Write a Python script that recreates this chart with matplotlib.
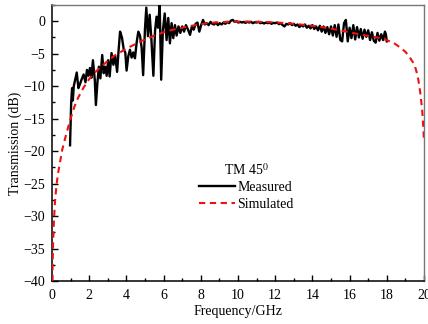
import matplotlib
matplotlib.use("Agg")
import matplotlib.pyplot as plt
from matplotlib.ticker import MultipleLocator

plt.rcParams['font.family'] = ['Liberation Serif', 'DejaVu Serif']
plt.rcParams['mathtext.fontset'] = 'stix'

# Measured transmission (GHz, dB)
meas_f = [0.97, 1.03, 1.08, 1.12, 1.17, 1.24, 1.33, 1.42, 1.50, 1.60, 1.70, 1.80, 1.88, 1.96,
          2.04, 2.12, 2.20, 2.30, 2.36, 2.44, 2.52, 2.60, 2.70, 2.78, 2.86, 2.94, 3.02, 3.10,
          3.20, 3.30, 3.40, 3.50, 3.58, 3.66, 3.76, 3.86, 3.94, 4.01, 4.10, 4.19, 4.28, 4.37,
          4.46, 4.55, 4.64, 4.73, 4.82, 4.90, 5.00, 5.07, 5.16, 5.25, 5.34, 5.45, 5.54, 5.62,
          5.70, 5.79, 5.87, 5.96, 6.06, 6.16, 6.25, 6.34, 6.43, 6.52, 6.61, 6.70, 6.80, 6.90,
          7.00, 7.10, 7.20, 7.30, 7.42, 7.52, 7.62, 7.72, 7.82, 7.92, 8.02, 8.12, 8.22, 8.32,
          8.42, 8.52, 8.62, 8.72, 8.82, 8.92, 9.02, 9.12, 9.22, 9.32, 9.42, 9.52, 9.62, 9.72,
          9.82, 9.92, 10.02, 10.12, 10.22, 10.3, 10.4, 10.5, 10.6, 10.7, 10.8, 10.9, 11.0,
          11.1, 11.2, 11.3, 11.4, 11.5, 11.6, 11.7, 11.8, 11.9, 12.0, 12.1, 12.2, 12.3, 12.4,
          12.5, 12.6, 12.7, 12.8, 12.9, 13.0, 13.1, 13.2, 13.3, 13.4, 13.5, 13.6, 13.7, 13.8,
          13.9, 14.0, 14.1, 14.2, 14.3, 14.4, 14.5, 14.6, 14.7, 14.8, 14.9, 15.0, 15.1, 15.2,
          15.3, 15.4, 15.5, 15.6, 15.7, 15.8, 15.9, 16.0, 16.1, 16.2, 16.3, 16.4, 16.5, 16.6,
          16.7, 16.8, 16.9, 17.0, 17.1, 17.2, 17.3, 17.4, 17.5, 17.6, 17.7, 17.8, 17.9, 17.95,
          18.0]
meas_db = [-19.1, -12.6, -10.3, -12.2, -10.0, -9.1, -7.9, -10.3, -9.7, -8.9, -8.2, -9.4, -7.5, -8.4,
           -7.2, -8.7, -6.0, -9.0, -12.9, -9.5, -7.0, -8.8, -5.2, -8.0, -7.0, -8.4, -6.0, -8.5,
           -4.9, -6.7, -5.4, -7.8, -4.5, -1.6, -2.5, -4.4, -4.8, -7.6, -5.4, -4.4, -5.6, -4.8,
           -5.7, -3.3, -1.6, -2.2, -4.1, -8.3, -1.1, 2.1, -2.3, 1.0, -2.6, -8.4, -1.5, 0.7,
           -1.0, 2.6, -9.0, -1.5, 1.2, -2.9, 0.5, -3.4, -0.3, -2.6, -0.6, -2.2, -0.8, -1.8,
           -0.8, -1.6, -0.6, -1.2, -2.1, -0.8, -1.3, -0.4, -0.2, -1.6, -0.6, 0.2, -0.5, -0.3,
           -0.6, -0.1, -0.4, -0.5, -0.2, -0.6, -0.3, -0.5, -0.2, -0.4, -0.1, -0.3, 0.1, 0.2,
           -0.1, 0.0, -0.2, -0.1, -0.2, -0.1, -0.25, -0.1, -0.2, -0.1, -0.3, -0.15, -0.2,
           -0.1, -0.3, -0.2, -0.35, -0.2, -0.3, -0.2, -0.4, -0.25, -0.3, -0.2, -0.45, -0.3, -0.6,
           -0.8, -0.4, -0.5, -0.3, -0.6, -0.4, -0.7, -0.5, -0.9, -0.6, -0.8, -0.5, -1.0, -0.7,
           -1.1, -0.6, -1.2, -0.8, -1.4, -0.7, -1.6, -0.8, -1.8, -0.9, -2.0, -0.8, -2.2, -0.6,
           -2.4, -0.5, -2.9, -3.1, -0.3, 0.2, -3.1, -1.0, -2.6, -0.6, -2.8, -0.9, -2.5, -1.2,
           -2.7, -1.3, -2.4, -1.4, -2.9, -1.7, -3.0, -3.3, -1.8, -3.0, -2.0, -2.9, -1.6, -2.0,
           -3.1]

# Simulated transmission (GHz, dB)
sim_f = [0.02, 0.05, 0.1, 0.16, 0.25, 0.35, 0.45, 0.55, 0.7, 0.85, 1.0, 1.2, 1.4, 1.7, 2.0, 2.3,
         2.6, 3.0, 3.3, 3.6, 4.0, 4.5, 5.0, 5.5, 6.0, 6.5, 7.0, 7.5, 8.0, 8.5, 9.0, 9.5, 10.0,
         10.5, 11.0, 11.5, 12.0, 12.5, 13.0, 13.5, 14.0, 14.5, 15.0, 15.5, 16.0, 16.5, 17.0,
         17.5, 18.0, 18.4, 18.7, 19.0, 19.2, 19.4, 19.5, 19.6, 19.7, 19.8, 19.9, 19.95, 20.0]
sim_db = [-40, -35, -31, -27.8, -25, -23, -21.4, -19.8, -18.1, -16.5, -15.0, -13.2, -11.8, -10.2,
          -8.9, -7.9, -7.1, -6.1, -5.4, -4.9, -4.2, -3.5, -2.8, -2.2, -1.7, -1.3, -1.0, -0.7,
          -0.45, -0.25, -0.15, -0.08, -0.05, -0.05, -0.08, -0.12, -0.18, -0.28, -0.4, -0.55,
          -0.7, -0.9, -1.15, -1.4, -1.7, -2.0, -2.25, -2.5, -2.9, -3.4, -4.0, -4.7, -5.4, -6.3,
          -6.8, -7.8, -9.1, -11.0, -13.6, -15.8, -18.4]

fig = plt.figure(figsize=(4.28, 3.24), dpi=100)
ax = fig.add_axes([52 / 428, 1 - 281 / 324, 372 / 428, 276 / 324])

ax.plot(meas_f, meas_db, color='black', lw=1.7, label='Measured', zorder=3)
ax.plot(sim_f, sim_db, color='#ee1111', lw=1.5, ls=(0, (3, 2.2)), label='Simulated', zorder=4)

ax.set_xlim(0, 20)
ax.set_ylim(-40, 2.5)
ax.xaxis.set_major_locator(MultipleLocator(2))
ax.xaxis.set_minor_locator(MultipleLocator(1))
ax.yaxis.set_major_locator(MultipleLocator(5))
ax.yaxis.set_minor_locator(MultipleLocator(2.5))
ax.tick_params(which='both', direction='in', top=False, right=False, labelsize=10, width=1)
ax.tick_params(which='major', length=4)
ax.tick_params(which='minor', length=2.5)
ax.tick_params(axis='x', which='major', pad=6)
ax.tick_params(axis='y', which='major', pad=5)
for s in ['left', 'bottom']:
    ax.spines[s].set_linewidth(1.1)
for s in ['top', 'right']:
    ax.spines[s].set_color('#777777')
    ax.spines[s].set_linewidth(1.0)

ax.set_xlabel('Frequency/GHz', fontsize=10, labelpad=2)
ax.set_ylabel('Transmission (dB)', fontsize=10, labelpad=1)

leg = ax.legend(loc='upper left', bbox_to_anchor=((199 - 52) / 372, (281 - 162) / 276),
                frameon=False, fontsize=10, title='TM 45$^{0}$', title_fontsize=10,
                handlelength=2.6, handletextpad=0.15, borderpad=0, labelspacing=0.25,
                borderaxespad=0)

fig.savefig('out.png', dpi=100)
